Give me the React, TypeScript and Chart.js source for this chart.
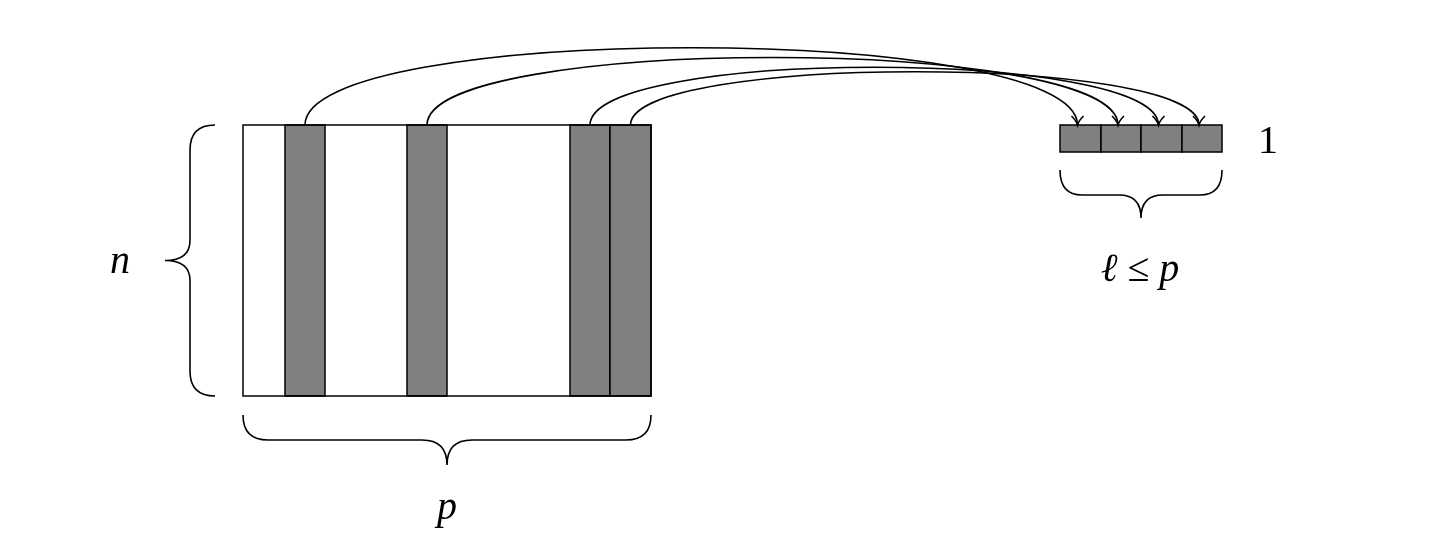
import React, { useEffect, useRef } from "react";
import { Chart, registerables } from "chart.js";
Chart.register(...registerables);

// matrix column boundaries (x) and which columns are selected
const colEdges = [243, 285, 325, 366, 407, 447, 488, 529, 570, 610, 651];
const selected = [1, 4, 8, 9];
const matTop = 125, matBottom = 396;
// result vector cells
const vecEdges = [1060, 1101, 1141, 1182, 1222];
const vecTop = 125, vecBottom = 152;
// arrow control heights (data y)
const arrowCtrl = [22, 35, 48, 54];
const labels = [
  { t: "n", x: 120, y: 262, italic: true },
  { t: "p", x: 447, y: 508, italic: true },
  { t: "ℓ ≤ p", x: 1140, y: 270, italic: true },
  { t: "1", x: 1268, y: 142, italic: false },
];

export default function App() {
  const ref = useRef<HTMLCanvasElement>(null);
  useEffect(() => {
    document.body.style.margin = "0";
    const plugin = {
      id: "diagram",
      afterDraw(chart: any) {
        const { ctx } = chart;
        const X = (v: number) => chart.scales.x.getPixelForValue(v);
        const Y = (v: number) => chart.scales.y.getPixelForValue(v);
        ctx.save();
        ctx.lineWidth = 1.5;
        ctx.strokeStyle = "#000";
        // matrix
        selected.forEach((i) => {
          ctx.fillStyle = "#808080";
          ctx.fillRect(X(colEdges[i]), Y(matTop), X(colEdges[i + 1]) - X(colEdges[i]), Y(matBottom) - Y(matTop));
          ctx.strokeRect(X(colEdges[i]), Y(matTop), X(colEdges[i + 1]) - X(colEdges[i]), Y(matBottom) - Y(matTop));
        });
        ctx.strokeRect(X(colEdges[0]), Y(matTop), X(colEdges[10]) - X(colEdges[0]), Y(matBottom) - Y(matTop));
        // vector
        for (let i = 0; i < 4; i++) {
          ctx.fillStyle = "#808080";
          ctx.fillRect(X(vecEdges[i]), Y(vecTop), X(vecEdges[i + 1]) - X(vecEdges[i]), Y(vecBottom) - Y(vecTop));
          ctx.strokeRect(X(vecEdges[i]), Y(vecTop), X(vecEdges[i + 1]) - X(vecEdges[i]), Y(vecBottom) - Y(vecTop));
        }
        // arrows
        ctx.lineWidth = 1.6;
        selected.forEach((c, k) => {
          const x0 = (colEdges[c] + colEdges[c + 1]) / 2;
          const x1 = (vecEdges[k] + vecEdges[k + 1]) / 2 - 3;
          const h = arrowCtrl[k];
          ctx.beginPath();
          ctx.moveTo(X(x0), Y(matTop));
          ctx.bezierCurveTo(X(x0), Y(h), X(x1), Y(h), X(x1), Y(vecTop));
          ctx.stroke();
          ctx.beginPath();
          ctx.moveTo(X(x1 - 6), Y(vecTop - 9));
          ctx.quadraticCurveTo(X(x1 - 1), Y(vecTop - 4), X(x1), Y(vecTop));
          ctx.quadraticCurveTo(X(x1 + 1), Y(vecTop - 4), X(x1 + 6), Y(vecTop - 9));
          ctx.stroke();
        });
        // braces
        ctx.lineWidth = 1.6;
        const vbrace = (xb: number, xm: number, xt: number, y0: number, y1: number) => {
          const ym = (y0 + y1) / 2;
          ctx.beginPath();
          ctx.moveTo(X(xb), Y(y0));
          ctx.quadraticCurveTo(X(xm), Y(y0), X(xm), Y(y0 + 25));
          ctx.lineTo(X(xm), Y(ym - 20));
          ctx.quadraticCurveTo(X(xm), Y(ym), X(xt), Y(ym));
          ctx.quadraticCurveTo(X(xm), Y(ym), X(xm), Y(ym + 20));
          ctx.lineTo(X(xm), Y(y1 - 25));
          ctx.quadraticCurveTo(X(xm), Y(y1), X(xb), Y(y1));
          ctx.stroke();
        };
        const hbrace = (yb: number, ym: number, yt: number, x0: number, x1: number, r: number) => {
          const xm = (x0 + x1) / 2;
          ctx.beginPath();
          ctx.moveTo(X(x0), Y(yb));
          ctx.quadraticCurveTo(X(x0), Y(ym), X(x0 + r), Y(ym));
          ctx.lineTo(X(xm - r), Y(ym));
          ctx.quadraticCurveTo(X(xm), Y(ym), X(xm), Y(yt));
          ctx.quadraticCurveTo(X(xm), Y(ym), X(xm + r), Y(ym));
          ctx.lineTo(X(x1 - r), Y(ym));
          ctx.quadraticCurveTo(X(x1), Y(ym), X(x1), Y(yb));
          ctx.stroke();
        };
        vbrace(215, 190, 165, matTop, matBottom);
        hbrace(415, 440, 465, 243, 651, 25);
        hbrace(170, 195, 218, 1060, 1222, 22);
        // labels
        ctx.fillStyle = "#000";
        ctx.textAlign = "center";
        ctx.textBaseline = "middle";
        labels.forEach((l) => {
          ctx.font = `${l.italic ? "italic " : ""}40px "Liberation Serif", "DejaVu Serif", serif`;
          ctx.fillText(l.t, X(l.x), Y(l.y));
        });
        ctx.restore();
      },
    };
    const chart = new Chart(ref.current!, {
      type: "scatter",
      data: { datasets: [{ data: [] }] },
      options: {
        animation: false,
        responsive: false,
        layout: { padding: 0 },
        plugins: { legend: { display: false }, tooltip: { enabled: false } },
        scales: {
          x: { type: "linear", min: 0, max: 1442, display: false },
          y: { type: "linear", min: 0, max: 540, reverse: true, display: false },
        },
      },
      plugins: [plugin],
    });
    return () => chart.destroy();
  }, []);
  return <canvas ref={ref} width={1442} height={540} style={{ display: "block" }} />;
}
